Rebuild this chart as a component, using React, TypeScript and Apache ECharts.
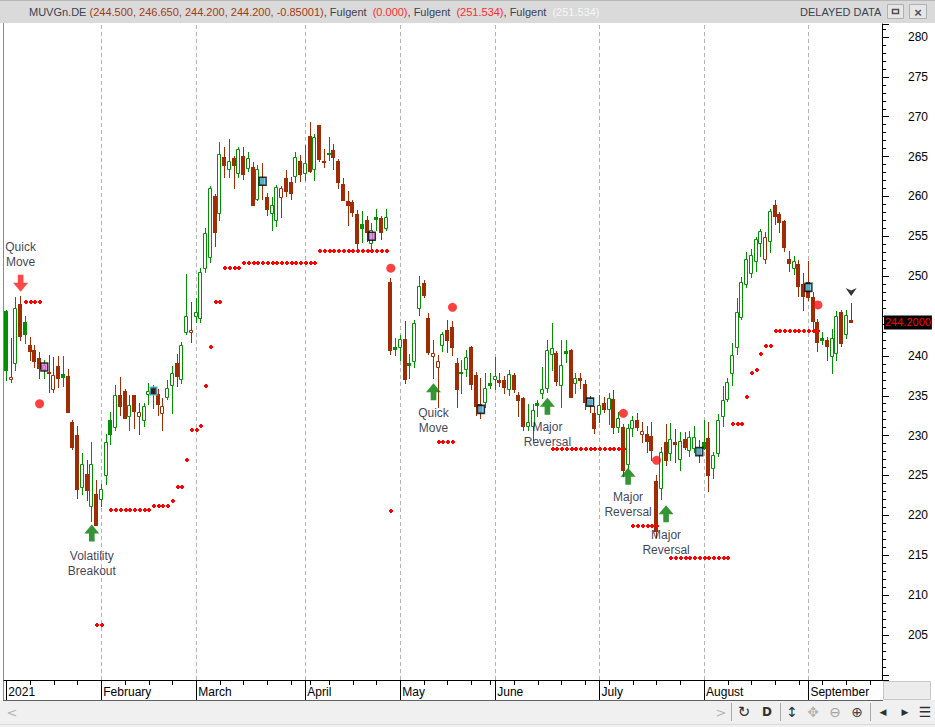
import React, { useEffect, useRef } from 'react';
import * as echarts from 'echarts';

const FONT = '"Liberation Sans", Arial, sans-serif';

// ---- calendar ----
const firstSession = '2021-01-04';
const exchangeHolidays = ['2021-04-02', '2021-04-05', '2021-05-24'];
const slotCount = 185; // 179 sessions + empty room on the right
const monthLabels = ['2021', 'February', 'March', 'April', 'May', 'June', 'July', 'August', 'September', 'October'];

// ---- OHLC (MUVGn.DE, daily) ----
const opens = [
  245.6, 237.1, 239.1, 246.5, 244.2, 241.4, 240.7, 239.8, 238.3, 238.0,
  235.8, 238.7, 237.7, 237.5, 231.7, 230.1, 223.6, 225.2, 221.2, 222.7,
  222.0, 225.0, 232.0, 231.1, 235.1, 235.6, 232.5, 235.1, 232.5, 232.0,
  235.2, 235.9, 235.2, 232.9, 234.9, 236.4, 239.1, 237.1, 243.0, 243.0,
  245.0, 244.7, 251.0, 252.4, 260.0, 257.9, 264.9, 263.5, 264.8, 263.0,
  265.1, 263.6, 263.7, 259.7, 262.3, 259.9, 257.9, 257.0, 259.9, 262.3,
  261.8, 262.6, 264.4, 262.9, 267.6, 263.5, 269.0, 264.5, 265.5, 265.8,
  264.4, 261.6, 259.4, 259.3, 257.8, 256.5, 257.0, 254.2, 257.4, 257.3,
  256.0, 249.3, 241.1, 241.1, 242.1, 239.1, 239.4, 246.0, 249.1, 244.7,
  240.0, 238.6, 241.4, 243.2, 243.6, 239.1, 238.0, 238.3, 241.1, 237.6,
  234.0, 234.2, 236.6, 237.1, 237.0, 237.0, 235.9, 237.6, 235.1, 234.7,
  231.2, 231.2, 234.1, 235.3, 236.0, 240.3, 240.4, 236.3, 240.6, 240.7,
  236.6, 237.2, 236.5, 234.5, 232.8, 232.7, 234.1, 233.3, 234.6, 231.1,
  231.1, 226.5, 231.0, 232.0, 230.2, 230.2, 230.0, 224.3, 223.4, 229.2,
  227.8, 229.2, 227.1, 229.6, 228.2, 228.5, 228.3, 229.2, 229.7, 226.0,
  227.8, 232.4, 234.6, 237.8, 241.1, 244.9, 249.0, 250.4, 251.9, 254.1,
  252.2, 254.4, 258.9, 257.8, 256.9, 252.1, 251.0, 251.5, 249.0, 249.3,
  247.4, 244.2, 242.2, 242.0, 240.0, 240.4, 245.5, 242.7, 244.5,
];
const closes = [
  238.2, 237.4, 246.0, 242.5, 242.7, 240.6, 239.3, 238.5, 238.9, 237.8,
  237.6, 237.2, 237.3, 233.0, 228.6, 223.3, 226.4, 223.2, 226.5, 218.8,
  223.3, 229.2, 230.2, 235.1, 233.7, 232.2, 233.8, 233.1, 233.0, 233.7,
  235.6, 235.3, 234.0, 233.7, 236.0, 237.9, 237.5, 241.4, 245.0, 243.3,
  245.5, 250.5, 255.4, 261.0, 255.5, 265.3, 263.9, 264.4, 263.9, 265.9,
  262.8, 264.8, 258.9, 263.5, 261.5, 258.4, 258.9, 261.2, 261.0, 260.7,
  260.4, 265.0, 262.8, 264.2, 263.2, 267.4, 264.7, 264.3, 265.4, 265.0,
  261.8, 259.6, 258.9, 258.0, 254.2, 256.1, 255.5, 255.8, 257.2, 255.5,
  257.4, 240.7, 240.9, 242.1, 237.1, 238.8, 244.1, 248.8, 247.7, 240.5,
  240.4, 239.3, 242.7, 242.0, 241.1, 235.8, 237.8, 239.9, 236.5, 233.7,
  233.0, 236.0, 236.3, 237.5, 236.7, 236.1, 237.7, 235.9, 234.5, 231.2,
  231.7, 233.2, 233.9, 235.8, 240.8, 241.0, 236.8, 238.8, 240.4, 234.9,
  237.2, 237.0, 234.2, 233.8, 230.9, 233.8, 233.4, 234.7, 231.1, 232.2,
  225.7, 230.9, 231.9, 231.1, 230.6, 229.3, 228.2, 218.1, 228.0, 226.9,
  229.6, 229.0, 229.3, 228.6, 229.8, 229.8, 227.7, 228.5, 225.0, 227.6,
  231.9, 234.5, 236.7, 240.1, 245.5, 249.3, 252.2, 252.7, 254.7, 255.7,
  254.9, 258.2, 257.5, 256.8, 253.6, 251.7, 251.9, 248.8, 247.5, 247.4,
  244.4, 241.8, 242.0, 241.3, 242.3, 245.0, 241.6, 245.1, 244.2,
];
const lows = [
  237.0, 236.7, 238.2, 242.0, 241.6, 239.5, 238.6, 237.2, 237.2, 235.5,
  235.5, 236.1, 236.2, 233.0, 228.3, 222.2, 222.7, 221.9, 219.3, 218.8,
  221.2, 223.9, 229.0, 230.7, 232.6, 232.2, 230.7, 230.9, 230.2, 231.2,
  234.0, 233.5, 232.6, 230.7, 234.6, 232.9, 236.2, 236.6, 242.8, 241.8,
  244.3, 244.3, 250.5, 251.8, 253.8, 257.0, 262.5, 262.5, 261.0, 262.5,
  262.2, 263.2, 258.9, 259.5, 259.7, 257.7, 255.8, 256.3, 257.4, 260.0,
  259.7, 261.8, 261.9, 262.1, 263.1, 262.1, 264.5, 263.7, 264.6, 263.5,
  261.1, 259.5, 256.4, 257.5, 253.5, 254.3, 254.4, 253.5, 255.8, 254.7,
  255.8, 240.3, 240.1, 239.5, 236.6, 237.2, 238.6, 245.1, 247.4, 240.2,
  237.2, 233.6, 240.6, 240.5, 240.1, 233.6, 235.3, 237.5, 235.9, 232.6,
  232.2, 233.6, 236.0, 235.9, 236.2, 235.3, 235.1, 235.5, 232.4, 230.7,
  230.7, 229.4, 232.5, 234.7, 235.5, 238.2, 236.3, 233.6, 239.2, 234.8,
  235.3, 236.0, 233.3, 233.0, 230.3, 231.7, 233.0, 231.5, 230.3, 230.5,
  224.9, 226.0, 230.0, 230.7, 229.2, 228.0, 226.9, 217.3, 222.1, 226.3,
  227.0, 226.7, 225.7, 228.3, 227.4, 228.0, 226.7, 228.3, 223.1, 224.7,
  227.5, 231.2, 234.4, 236.3, 240.2, 244.6, 248.6, 249.9, 250.6, 252.5,
  251.7, 253.0, 256.6, 255.5, 253.1, 250.6, 250.3, 247.5, 245.7, 247.0,
  243.4, 240.6, 241.5, 239.5, 237.8, 239.5, 241.3, 242.2, 244.2,
];
const highs = [
  245.8, 242.2, 247.4, 247.5, 245.0, 242.4, 241.4, 240.5, 239.5, 240.1,
  239.9, 240.0, 240.0, 238.3, 232.0, 231.2, 227.8, 227.0, 229.2, 224.4,
  223.9, 230.2, 233.0, 236.3, 237.4, 235.8, 235.1, 235.1, 234.1, 234.1,
  236.6, 236.3, 235.8, 234.7, 237.0, 238.7, 240.3, 241.7, 250.3, 246.8,
  247.3, 251.0, 256.0, 261.3, 260.3, 266.8, 266.2, 267.2, 265.1, 266.2,
  266.2, 265.6, 264.3, 264.0, 264.2, 260.4, 259.9, 261.4, 261.3, 263.3,
  262.4, 265.6, 265.2, 266.4, 269.4, 267.8, 269.0, 266.0, 267.4, 266.6,
  264.7, 262.3, 260.7, 259.6, 258.3, 258.2, 257.5, 256.7, 258.4, 257.6,
  258.4, 249.8, 242.2, 242.6, 244.4, 240.2, 244.5, 250.0, 249.5, 245.4,
  242.0, 240.1, 243.0, 244.5, 244.4, 239.7, 239.5, 240.7, 241.2, 238.0,
  237.2, 237.9, 237.8, 239.9, 237.8, 237.5, 238.2, 237.8, 235.5, 234.8,
  234.0, 234.0, 234.5, 238.6, 242.0, 244.1, 240.6, 242.0, 242.0, 240.9,
  237.8, 237.8, 237.0, 235.0, 233.7, 235.1, 234.8, 235.3, 235.7, 233.0,
  231.5, 231.4, 232.4, 232.8, 231.7, 231.2, 231.7, 225.0, 228.6, 231.5,
  231.6, 230.8, 230.5, 230.5, 230.6, 231.2, 229.4, 231.9, 231.7, 228.0,
  232.7, 236.2, 237.2, 241.6, 247.3, 249.9, 253.0, 253.4, 254.9, 255.9,
  255.6, 258.4, 259.5, 258.0, 257.1, 253.1, 252.5, 252.0, 250.4, 251.9,
  248.0, 244.6, 243.0, 242.4, 243.4, 245.6, 245.7, 245.7, 246.65,
];

// ---- "Fulgent" stop level: runs of [firstBar, lastBar, level] ----
const stopRuns = [
  [4, 7, 246.8], [19, 20, 206.2], [22, 30, 220.65], [31, 34, 221.2], [35, 35, 221.8],
  [36, 37, 223.6], [38, 38, 227.0], [39, 40, 230.65], [41, 41, 231.2], [42, 42, 236.2],
  [43, 43, 241.1], [44, 45, 246.7], [46, 49, 251.0], [50, 65, 251.6], [66, 80, 253.1],
  [81, 81, 220.6], [91, 94, 229.15], [115, 130, 228.3], [132, 137, 218.7], [140, 152, 214.6],
  [153, 155, 231.5], [156, 156, 234.9], [157, 157, 237.8], [158, 158, 238.2], [159, 159, 240.2],
  [160, 161, 241.2], [162, 171, 243.1],
];

// ---- big red signal dots ----
const signalBars = [7, 81, 94, 130, 137, 171];
const signalValues = [234.0, 251.0, 246.1, 232.8, 226.9, 246.4];

// ---- cycle markers (every 23 sessions) ----
const cycleBars = [8, 31, 54, 77, 100, 123, 146, 169];
const cycleValues = [238.6, 235.6, 261.9, 255.0, 233.3, 234.2, 228.0, 248.6];

// ---- expert-advisor arrows ----
const upArrowBars = [18, 90, 114, 131, 139];
const upArrowValues = [217.8, 235.5, 233.7, 224.9, 220.2];
const upArrowTexts = ['Volatility\nBreakout', 'Quick\nMove', 'Major\nReversal', 'Major\nReversal', 'Major\nReversal'];
const downArrowBars = [3];
const downArrowValues = [249.1];
const downArrowTexts = ['Quick\nMove'];
const topMarkerBars = [178];
const topMarkerValues = [248.0];

const lastPrice = 244.2;

// ---------------------------------------------------------------
function buildSessions(start, count, holidays) {
  const out = [];
  const d = new Date(start + 'T00:00:00Z');
  while (out.length < count) {
    const dow = d.getUTCDay();
    const s = d.toISOString().slice(0, 10);
    if (dow !== 0 && dow !== 6 && holidays.indexOf(s) < 0) out.push(s);
    d.setUTCDate(d.getUTCDate() + 1);
  }
  return out;
}

const dates = buildSessions(firstSession, slotCount, exchangeHolidays);
const isMonthStart = dates.map((d, i) => i === 0 || d.slice(5, 7) !== dates[i - 1].slice(5, 7));
const dowOf = (s) => new Date(s + 'T00:00:00Z').getUTCDay();
const isWeekStart = dates.map((d, i) => i > 0 && dowOf(d) < dowOf(dates[i - 1]));

const GREEN = '#009000';
const BROWN = '#a02c04';

const ohlcData = opens.map((o, i) => [i, o, closes[i], lows[i], highs[i]]);

function renderCandle(params, api) {
  const i = api.value(0);
  const o = api.value(1);
  const c = api.value(2);
  const l = api.value(3);
  const h = api.value(4);
  const prev = i > 0 ? closes[i - 1] : -Infinity;
  const col = c >= prev ? GREEN : BROWN;
  const pO = api.coord([i, o]);
  const pC = api.coord([i, c]);
  const pL = api.coord([i, l]);
  const pH = api.coord([i, h]);
  const cx = Math.floor(pO[0]);
  const top = Math.round(Math.min(pO[1], pC[1]));
  const bot = Math.round(Math.max(pO[1], pC[1]));
  const wick = {
    type: 'line',
    shape: { x1: cx + 0.5, y1: Math.round(pH[1]), x2: cx + 0.5, y2: Math.round(pL[1]) + 1 },
    style: { stroke: col, lineWidth: 1 },
  };
  const body =
    c > o
      ? {
          type: 'rect',
          shape: { x: cx - 1.5, y: top + 0.5, width: 3, height: Math.max(bot - top, 1) },
          style: { fill: '#ffffff', stroke: col, lineWidth: 1 },
        }
      : {
          type: 'rect',
          shape: { x: cx - 2, y: top, width: 4, height: Math.max(bot - top + 1, 2) },
          style: { fill: col },
        };
  return { type: 'group', children: [wick, body] };
}

const stopData = [];
stopRuns.forEach(([a, b, lv]) => {
  for (let i = a; i <= b; i++) stopData.push([i, lv]);
});

function renderStopDot(params, api) {
  const p = api.coord([api.value(0), api.value(1)]);
  const x = Math.floor(p[0]);
  const y = Math.round(p[1]);
  return {
    type: 'group',
    children: [
      { type: 'rect', shape: { x: x - 1, y: y - 1, width: 4, height: 2 }, style: { fill: '#ff0000' } },
      { type: 'rect', shape: { x: x, y: y - 2, width: 2, height: 4 }, style: { fill: '#ff0000' } },
    ],
  };
}

const cycleStyles = [
  { fill: '#e070e0', border: '#000000' },
  { fill: '#1a1a1a', border: '#55c8f0' },
  { fill: '#55c8f0', border: '#000000' },
  { fill: '#e070e0', border: '#000000' },
  { fill: '#55c8f0', border: '#000000' },
  { fill: '#55c8f0', border: '#000000' },
  { fill: '#55c8f0', border: '#000000' },
  { fill: '#55c8f0', border: '#000000' },
];

const UP_ARROW = 'path://M8,0 L16,9 L11,9 L11,17 L5,17 L5,9 L0,9 Z';
const DOWN_ARROW = 'path://M5,0 L11,0 L11,8 L16,8 L8,17 L0,8 L5,8 Z';
const CHEVRON = 'path://M0,0 L5,2 L10,0 L5,7 Z';

const annotationLabel = {
  show: true,
  fontSize: 12,
  fontFamily: FONT,
  color: '#0c0c2c',
  lineHeight: 15,
  align: 'center',
};

const last = opens.length - 1;
const headerText =
  '{n|MUVGn.DE\u00a0}{v|(' +
  [opens[last], highs[last], lows[last], closes[last]].map((x) => x.toFixed(3)).join(', ') +
  ', -0.85001)}{n|, Fulgent\u00a0\u00a0}{r|(0.000)}{n|, Fulgent\u00a0\u00a0}{r|(251.534)}{n|, Fulgent\u00a0\u00a0}{w|(251.534)}';

const toolbarIcons = [
  { t: '<', x: 12, c: '#b4b4b4', s: 13 },
  { t: '>', x: 721, c: '#b4b4b4', s: 13 },
  { t: '\u21bb', x: 744, c: '#303030', s: 15 },
  { t: 'D', x: 767, c: '#303030', s: 12 },
  { t: '\u2195', x: 792, c: '#303030', s: 14 },
  { t: '\u2725', x: 813, c: '#b4b4b4', s: 14 },
  { t: '\u2296', x: 835, c: '#a0a0a0', s: 14 },
  { t: '\u2295', x: 857, c: '#404040', s: 14 },
  { t: '\u25c0', x: 883, c: '#303030', s: 9 },
  { t: '\u25b6', x: 905, c: '#303030', s: 9 },
  { t: '\u2630', x: 925, c: '#303030', s: 14 },
];

const option = {
  animation: false,
  backgroundColor: '#ffffff',
  title: {
    left: 29,
    top: 6,
    padding: 0,
    text: headerText,
    textStyle: {
      fontSize: 11,
      fontWeight: 'normal',
      fontFamily: FONT,
      rich: {
        n: { color: '#3c4150', fontSize: 11, fontFamily: FONT },
        v: { color: '#a33a14', fontSize: 11, fontFamily: FONT },
        r: { color: '#ff2a2a', fontSize: 11, fontFamily: FONT },
        w: { color: '#f6f6f6', fontSize: 11, fontFamily: FONT },
      },
    },
  },
  grid: { left: 4, right: 53, top: 24, bottom: 47, containLabel: false },
  xAxis: [
    {
      type: 'category',
      data: dates,
      boundaryGap: true,
      position: 'bottom',
      axisLine: { show: true, lineStyle: { color: '#000', width: 1 } },
      axisTick: {
        show: true,
        alignWithLabel: true,
        interval: (i) => isWeekStart[i],
        length: 5,
        lineStyle: { color: '#000' },
      },
      axisLabel: { show: false },
      splitLine: { show: false },
    },
    {
      type: 'category',
      data: dates,
      boundaryGap: true,
      position: 'bottom',
      axisLine: { show: false },
      axisTick: {
        show: true,
        alignWithLabel: true,
        interval: (i) => isMonthStart[i],
        length: 20,
        lineStyle: { color: '#000' },
      },
      axisLabel: {
        show: true,
        interval: (i) => isMonthStart[i],
        formatter: (v) => monthLabels[Number(String(v).slice(5, 7)) - 1],
        align: 'left',
        margin: 6,
        padding: [0, 0, 0, 2],
        color: '#000',
        fontSize: 12,
        fontFamily: FONT,
      },
      splitLine: { show: false },
    },
  ],
  yAxis: {
    type: 'value',
    position: 'right',
    min: 199.35,
    max: 281.63,
    splitNumber: 16,
    axisLine: { show: true, lineStyle: { color: '#000' } },
    axisTick: { show: true, length: 7, lineStyle: { color: '#000' } },
    minorTick: { show: true, splitNumber: 5, length: 4, lineStyle: { color: '#000' } },
    splitLine: { show: false },
    axisLabel: {
      margin: 26,
      color: '#000',
      fontSize: 12,
      fontFamily: FONT,
      showMinLabel: false,
      showMaxLabel: false,
      formatter: (v) => {
        const r = Math.round(v);
        const ok = Math.abs(v - r) < 1e-6 && r % 5 === 0 && r >= 205 && r <= 280;
        // the last-price tag covers the label it sits on
        return ok && Math.abs(r - lastPrice) > 2.5 ? String(r) : '';
      },
    },
  },
  series: [
    {
      type: 'line',
      data: [],
      silent: true,
      z: 1,
      markLine: {
        silent: true,
        symbol: 'none',
        z: 1,
        label: { show: false },
        lineStyle: { color: '#b4b4b4', type: [4, 3], width: 1 },
        data: dates.filter((d, i) => isMonthStart[i] && i > 0).map((d) => ({ xAxis: d })),
      },
    },
    {
      type: 'custom',
      data: ohlcData,
      renderItem: renderCandle,
      encode: { x: 0, y: [1, 2, 3, 4] },
      clip: true,
      z: 3,
      silent: true,
    },
    {
      type: 'line',
      data: [],
      silent: true,
      z: 10,
      markLine: {
        silent: true,
        symbol: 'none',
        z: 10,
        lineStyle: { color: 'rgba(0,0,0,0)', width: 0 },
        label: {
          show: true,
          position: 'end',
          distance: 2,
          formatter: lastPrice.toFixed(4),
          color: '#ff0000',
          backgroundColor: '#000000',
          padding: [2, 1, 1, 1],
          fontSize: 11,
          fontFamily: FONT,
        },
        data: [{ yAxis: lastPrice }],
      },
    },
    {
      type: 'custom',
      data: stopData,
      renderItem: renderStopDot,
      encode: { x: 0, y: 1 },
      clip: true,
      z: 4,
      silent: true,
    },
    {
      type: 'scatter',
      data: signalBars.map((b, i) => [b, signalValues[i]]),
      symbol: 'circle',
      symbolSize: 9,
      itemStyle: { color: '#ff1010' },
      z: 5,
      silent: true,
    },
    {
      type: 'scatter',
      data: cycleBars.map((b, i) => ({
        value: [b, cycleValues[i]],
        itemStyle: { color: cycleStyles[i].fill, borderColor: cycleStyles[i].border, borderWidth: 1.5 },
      })),
      symbol: 'rect',
      symbolSize: [7, 8],
      z: 6,
      silent: true,
    },
    {
      type: 'scatter',
      data: upArrowBars.map((b, i) => ({
        value: [b, upArrowValues[i]],
        label: { distance: i === 0 ? 7 : 5 },
      })),
      symbol: UP_ARROW,
      symbolSize: [15, 17],
      itemStyle: { color: '#007a00' },
      label: { ...annotationLabel, position: 'bottom', formatter: (p) => upArrowTexts[p.dataIndex] },
      z: 6,
      silent: true,
    },
    {
      type: 'scatter',
      data: downArrowBars.map((b, i) => [b, downArrowValues[i]]),
      symbol: DOWN_ARROW,
      symbolSize: [15, 17],
      itemStyle: { color: '#ff1a1a' },
      label: { ...annotationLabel, position: 'top', distance: 5, formatter: (p) => downArrowTexts[p.dataIndex] },
      z: 6,
      silent: true,
    },
    {
      type: 'scatter',
      data: topMarkerBars.map((b, i) => [b, topMarkerValues[i]]),
      symbol: CHEVRON,
      symbolSize: [11, 8],
      itemStyle: { color: '#000000' },
      z: 6,
      silent: true,
    },
  ],
  graphic: [
    { type: 'rect', shape: { x: 0, y: 0, width: 935, height: 23 }, style: { fill: '#dadada' }, silent: true, z: -10 },
    { type: 'line', shape: { x1: 0, y1: 0.5, x2: 935, y2: 0.5 }, style: { stroke: '#b8b8b8', lineWidth: 1 }, silent: true },
    {
      type: 'text',
      x: 800,
      y: 12,
      style: { text: 'DELAYED DATA', fill: '#3c4150', font: '11px ' + FONT, textVerticalAlign: 'middle' },
      silent: true,
    },
    { type: 'rect', shape: { x: 887.5, y: 4.5, width: 16, height: 14 }, style: { fill: '#e6e6e6', stroke: '#b0b0b0', lineWidth: 1 }, silent: true },
    { type: 'rect', shape: { x: 892.5, y: 9.5, width: 6, height: 4 }, style: { fill: 'none', stroke: '#505050', lineWidth: 1.5 }, silent: true },
    { type: 'rect', shape: { x: 909.5, y: 4.5, width: 17, height: 14 }, style: { fill: '#e6e6e6', stroke: '#b0b0b0', lineWidth: 1 }, silent: true },
    {
      type: 'text',
      x: 918,
      y: 12,
      style: { text: '\u00d7', fill: '#505050', font: 'bold 13px ' + FONT, textAlign: 'center', textVerticalAlign: 'middle' },
      silent: true,
    },
    { type: 'line', shape: { x1: 3.5, y1: 23, x2: 3.5, y2: 700 }, style: { stroke: '#8a8a8a', lineWidth: 1 }, silent: true },
    { type: 'rect', shape: { x: 883.5, y: 681.5, width: 47, height: 18 }, style: { fill: '#ececec', stroke: '#c8c8c8', lineWidth: 1 }, silent: true },
    { type: 'rect', shape: { x: 0, y: 700, width: 935, height: 27 }, style: { fill: '#f0f0f0' }, silent: true },
    { type: 'line', shape: { x1: 3, y1: 700.5, x2: 883, y2: 700.5 }, style: { stroke: '#606060', lineWidth: 1 }, silent: true },
    { type: 'line', shape: { x1: 0, y1: 724.5, x2: 935, y2: 724.5 }, style: { stroke: '#dcdcdc', lineWidth: 1 }, silent: true },
    { type: 'line', shape: { x1: 731.5, y1: 703, x2: 731.5, y2: 721 }, style: { stroke: '#a8a8a8', lineWidth: 1 }, silent: true },
    { type: 'line', shape: { x1: 780.5, y1: 703, x2: 780.5, y2: 721 }, style: { stroke: '#a8a8a8', lineWidth: 1 }, silent: true },
    { type: 'line', shape: { x1: 870.5, y1: 703, x2: 870.5, y2: 721 }, style: { stroke: '#a8a8a8', lineWidth: 1 }, silent: true },
    ...toolbarIcons.map((ic) => ({
      type: 'text',
      x: ic.x,
      y: 712,
      style: {
        text: ic.t,
        fill: ic.c,
        font: (ic.t === 'D' ? 'bold ' : '') + ic.s + 'px "DejaVu Sans", ' + FONT,
        textAlign: 'center',
        textVerticalAlign: 'middle',
      },
      silent: true,
    })),
  ],
};

export default function App() {
  const ref = useRef(null);
  useEffect(() => {
    const chart = echarts.init(ref.current, null, { renderer: 'svg' });
    chart.setOption(option);
    return () => chart.dispose();
  }, []);
  return (
    <div
      ref={ref}
      style={{ position: 'fixed', left: 0, top: 0, width: 935, height: 727, background: '#ffffff' }}
    />
  );
}
